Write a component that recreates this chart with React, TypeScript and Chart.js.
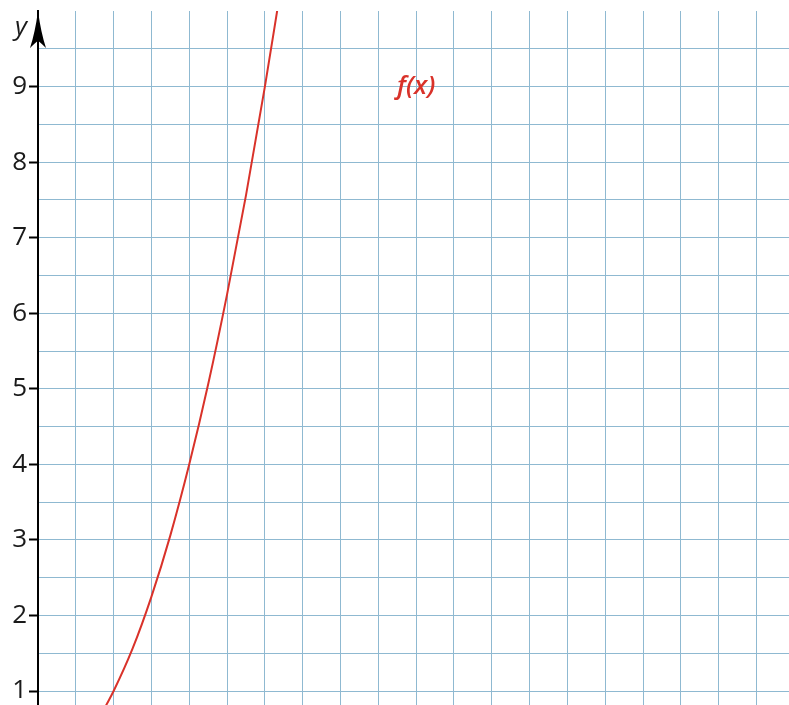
import React, { useEffect, useRef } from "react";
import { Chart, registerables } from "chart.js";

Chart.register(...registerables);

const curveX = [0.9, 1.0, 1.25, 1.5, 1.75, 2.0, 2.25, 2.5, 2.75, 3.0, 3.17];
const curveY = [0.81, 1.0, 1.56, 2.25, 3.06, 4.0, 5.06, 6.25, 7.56, 9.0, 10.05];

// Grid / tick values
const yGridTicks = [1, 1.5, 2, 2.5, 3, 3.5, 4, 4.5, 5, 5.5, 6, 6.5, 7, 7.5, 8, 8.5, 9, 9.5];
const xGridTicks = [0.5, 1, 1.5, 2, 2.5, 3, 3.5, 4, 4.5, 5, 5.5, 6, 6.5, 7, 7.5, 8, 8.5, 9, 9.5];

const seriesLabel = "f(x)";
const labelPos = { x: 5.0, y: 9 };

const RED = "#d9322a";
const GRID = "#8fb9d1";

export default function App() {
  const ref = useRef<HTMLCanvasElement | null>(null);

  useEffect(() => {
    if (!ref.current) return;
    const annot = {
      id: "annot",
      afterDraw(chart: any) {
        const { ctx, chartArea, scales } = chart;
        const ax = chartArea.left;
        const top = chartArea.top;
        ctx.save();
        // arrow head
        ctx.fillStyle = "#000";
        ctx.beginPath();
        ctx.moveTo(ax, top);
        ctx.quadraticCurveTo(ax + 3, top + 22, ax + 8, top + 37);
        ctx.quadraticCurveTo(ax + 2, top + 31, ax, top + 30);
        ctx.quadraticCurveTo(ax - 2, top + 31, ax - 8, top + 37);
        ctx.quadraticCurveTo(ax - 3, top + 22, ax, top);
        ctx.closePath();
        ctx.fill();
        // y axis label
        ctx.fillStyle = "#1a1a1a";
        ctx.font = 'italic 26px "Open Sans"';
        ctx.textAlign = "center";
        ctx.textBaseline = "alphabetic";
        ctx.fillText("y", ax - 17, top + 24);
        // series label
        ctx.fillStyle = RED;
        ctx.font = 'italic 600 26px "Open Sans"';
        ctx.textBaseline = "middle";
        ctx.fillText(seriesLabel, scales.x.getPixelForValue(labelPos.x), scales.y.getPixelForValue(labelPos.y));
        ctx.restore();
      },
    };

    const chart = new Chart(ref.current, {
      type: "line",
      data: {
        datasets: [
          {
            label: seriesLabel,
            data: curveX.map((x, i) => ({ x, y: curveY[i] })),
            borderColor: RED,
            borderWidth: 2,
            pointRadius: 0,
            cubicInterpolationMode: "monotone",
            fill: false,
          },
        ],
      },
      options: {
        responsive: false,
        animation: false,
        layout: { padding: { top: 11, left: 0, right: 0, bottom: 0 } },
        plugins: { legend: { display: false }, tooltip: { enabled: false } },
        scales: {
          x: {
            type: "linear",
            min: 0,
            max: 9.93,
            afterBuildTicks: (s: any) => {
              s.ticks = xGridTicks.map((v) => ({ value: v }));
            },
            afterFit: (s: any) => {
              s.height = 0;
              s.paddingLeft = 0;
              s.paddingRight = 0;
            },
            ticks: { display: false },
            grid: { color: GRID, lineWidth: 1, drawTicks: false },
            border: { display: false },
          },
          y: {
            type: "linear",
            min: 0.815,
            max: 10,
            afterBuildTicks: (s: any) => {
              s.ticks = yGridTicks.map((v) => ({ value: v }));
            },
            afterFit: (s: any) => {
              s.width = 38;
              s.paddingTop = 0;
              s.paddingBottom = 0;
            },
            ticks: {
              callback: (v: any) => (Number.isInteger(v) ? String(v) : ""),
              color: "#1a1a1a",
              font: { family: '"Open Sans"', size: 26 },
              padding: 2,
              autoSkip: false,
            },
            grid: {
              color: GRID,
              lineWidth: 1,
              tickLength: 9,
              tickWidth: 2,
              tickColor: (c: any) => (Number.isInteger(c.tick?.value) ? "#000" : "rgba(0,0,0,0)"),
            },
            border: { display: true, color: "#000", width: 2 },
          },
        },
      },
      plugins: [annot],
    } as any);
    return () => chart.destroy();
  }, []);

  return (
    <div style={{ position: "absolute", left: 0, top: 0, width: 789, height: 705, background: "#fff" }}>
      <canvas ref={ref} width={789} height={705} style={{ display: "block" }} />
    </div>
  );
}
